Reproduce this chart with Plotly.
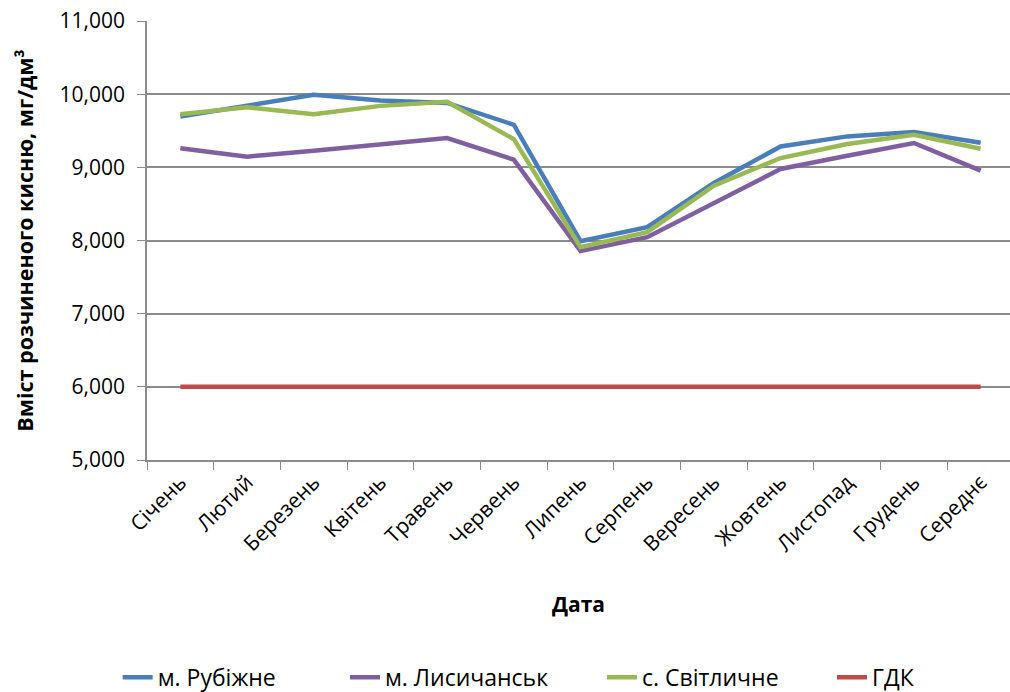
import plotly.graph_objects as go

categories = ["Січень", "Лютий", "Березень", "Квітень", "Травень", "Червень", "Липень",
              "Серпень", "Вересень", "Жовтень", "Листопад", "Грудень", "Середнє"]
rubizhne = [9694, 9840, 9991, 9913, 9880, 9582, 7991, 8182, 8786, 9286, 9423, 9482, 9336]
lysychansk = [9260, 9146, 9228, 9310, 9400, 9105, 7855, 8045, 8514, 8977, 9159, 9332, 8955]
svitlychne = [9726, 9822, 9726, 9840, 9895, 9386, 7909, 8114, 8750, 9127, 9318, 9445, 9255]
gdk = [6000] * 13

series = [
    ("м. Рубіжне", rubizhne, "#4A7EBB", "legend", -0.034),
    ("м. Лисичанськ", lysychansk, "#7F5FA0", "legend2", 0.2294),
    ("с. Світличне", svitlychne, "#98B954", "legend3", 0.5272),
    ("ГДК", gdk, "#BE4B48", "legend4", 0.7937),
]

font = "Open Sans, Liberation Sans, Arial"

fig = go.Figure()
legends = {}
for name, vals, color, leg, lx in series:
    fig.add_trace(go.Scatter(x=categories, y=vals, mode="lines", name=name, legend=leg,
                             line=dict(color=color, width=4.5)))
    legends[leg] = dict(orientation="h", x=lx, xanchor="left", y=-0.495, yanchor="middle",
                        font=dict(size=23), bgcolor="rgba(0,0,0,0)")

fig.update_layout(
    width=1010, height=692,
    paper_bgcolor="white", plot_bgcolor="white",
    margin=dict(l=147, r=0, t=21, b=232, autoexpand=False),
    font=dict(family=font, size=21, color="#000000"),
    showlegend=True,
    **legends,
)
fig.update_xaxes(
    type="category", tickangle=-45, showgrid=False, automargin=False,
    range=[-0.5, 12.44],
    showline=True, linecolor="#8c8c8c", linewidth=1.5,
    ticks="outside", tickson="boundaries", ticklen=8, tickcolor="#8c8c8c",
    tickfont=dict(size=21), ticklabeloverflow="allow",
    title=dict(text="<b>Дата</b>", font=dict(size=21), standoff=41),
)
fig.update_yaxes(
    range=[5000, 11000], dtick=1000, tickformat=",d", automargin=False,
    showgrid=True, gridcolor="#8c8c8c", gridwidth=1.5,
    showline=True, linecolor="#8c8c8c", linewidth=1.5,
    ticks="outside", ticklen=8, tickcolor="#8c8c8c",
    tickfont=dict(size=21), zeroline=False, ticklabelstandoff=8,
    ticklabeloverflow="allow",
    title=dict(text="<b>Вміст розчиненого кисню, мг/дм³</b>", font=dict(size=21.5), standoff=20),
)

fig.write_html("out.html", config={"displayModeBar": False},
               post_script="document.body.style.margin='0';")
